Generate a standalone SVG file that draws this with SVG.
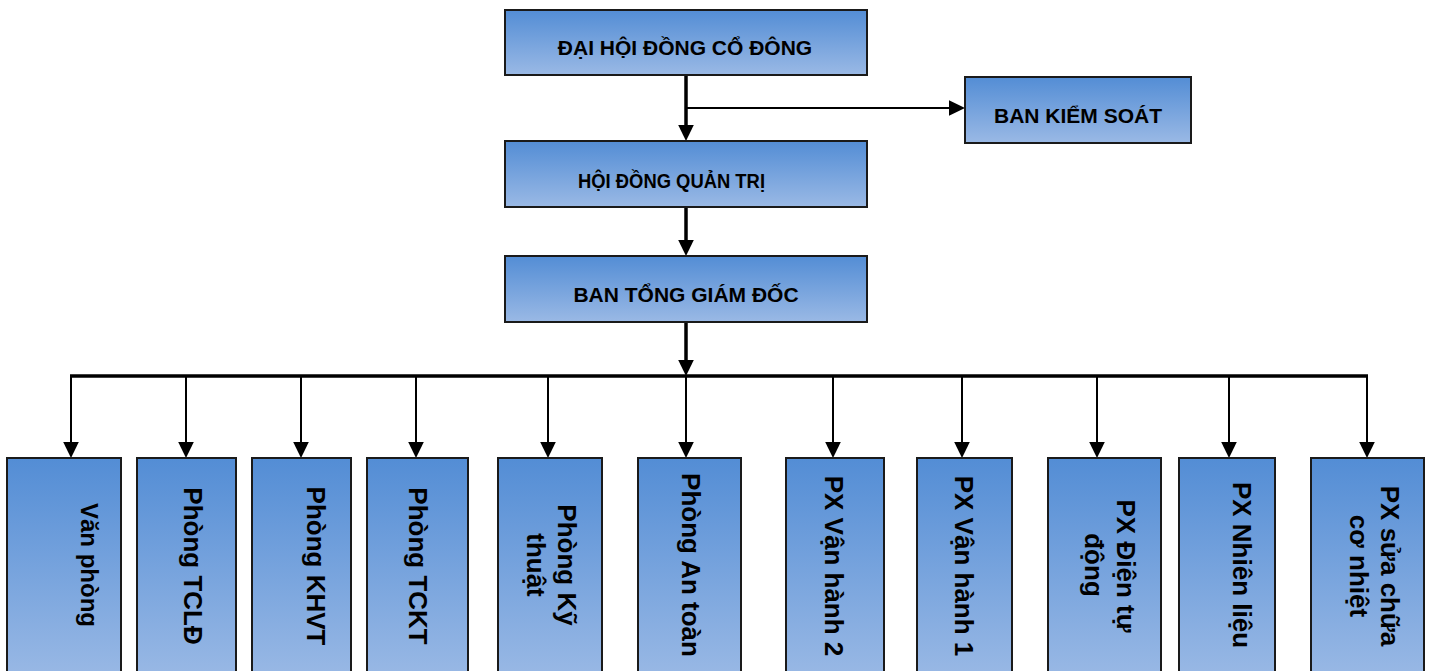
<svg xmlns="http://www.w3.org/2000/svg" width="1432" height="671" viewBox="0 0 1432 671">
<defs>
<linearGradient id="g" x1="0" y1="0" x2="0" y2="1">
<stop offset="0" stop-color="#538dd5"/>
<stop offset="1" stop-color="#9ab9e5"/>
</linearGradient>
<marker id="ah" markerUnits="userSpaceOnUse" markerWidth="16" markerHeight="16" viewBox="0 0 16 16" refX="6" refY="8" orient="auto">
<path d="M0,0.2 L16,8 L0,15.8 z" fill="#000"/>
</marker>
<style>
.box{fill:url(#g);stroke:#1a1a1a;stroke-width:2}
.ht{font-family:"Liberation Sans",Arial,sans-serif;font-weight:bold;font-size:21px;fill:#000;text-anchor:middle}
.vt{font-family:"Liberation Sans",Arial,sans-serif;font-weight:bold;font-size:26px;fill:#000;text-anchor:middle}
.thick{stroke:#000;stroke-width:3.5;fill:none}
.thin{stroke:#000;stroke-width:2;fill:none}
</style>
</defs>
<rect width="1432" height="671" fill="#fff"/>

<g id="connectors">
<line class="thick" x1="686" y1="75" x2="686" y2="131" marker-end="url(#ah)"/>
<line class="thin" x1="686" y1="108" x2="955" y2="108" marker-end="url(#ah)"/>
<line class="thick" x1="686" y1="207" x2="686" y2="246" marker-end="url(#ah)"/>
<line class="thick" x1="686" y1="322" x2="686" y2="366" marker-end="url(#ah)"/>
<line class="thick" x1="70" y1="376" x2="1368" y2="376"/>
<line class="thin" x1="71" y1="376" x2="71" y2="448" marker-end="url(#ah)"/>
<line class="thin" x1="186" y1="376" x2="186" y2="448" marker-end="url(#ah)"/>
<line class="thin" x1="301" y1="376" x2="301" y2="448" marker-end="url(#ah)"/>
<line class="thin" x1="416" y1="376" x2="416" y2="448" marker-end="url(#ah)"/>
<line class="thin" x1="548" y1="376" x2="548" y2="448" marker-end="url(#ah)"/>
<line class="thin" x1="686" y1="376" x2="686" y2="448" marker-end="url(#ah)"/>
<line class="thin" x1="833" y1="376" x2="833" y2="448" marker-end="url(#ah)"/>
<line class="thin" x1="962" y1="376" x2="962" y2="448" marker-end="url(#ah)"/>
<line class="thin" x1="1097" y1="376" x2="1097" y2="448" marker-end="url(#ah)"/>
<line class="thin" x1="1229" y1="376" x2="1229" y2="448" marker-end="url(#ah)"/>
<line class="thin" x1="1367" y1="376" x2="1367" y2="448" marker-end="url(#ah)"/>
</g>

<g id="dai-hoi-dong-co-dong">
<rect class="box" x="505" y="10" width="362" height="65"/>
<text class="ht" x="685" y="55">ĐẠI HỘI ĐỒNG CỔ ĐÔNG</text>
</g>
<g id="ban-kiem-soat">
<rect class="box" x="965" y="77" width="226" height="66"/>
<text class="ht" x="1078" y="123">BAN KIỂM SOÁT</text>
</g>
<g id="hoi-dong-quan-tri">
<rect class="box" x="505" y="141" width="362" height="66"/>
<text class="ht" x="671.5" y="188" textLength="187" lengthAdjust="spacingAndGlyphs">HỘI ĐỒNG QUẢN TRỊ</text>
</g>
<g id="ban-tong-giam-doc">
<rect class="box" x="505" y="256" width="362" height="66"/>
<text class="ht" x="686" y="302">BAN TỔNG GIÁM ĐỐC</text>
</g>

<g id="van-phong">
<rect class="box" x="7" y="458" width="114" height="222"/>
<text class="vt" style="font-size:24px" transform="translate(81,565) rotate(90)">Văn phòng</text>
</g>
<g id="phong-tcld">
<rect class="box" x="137" y="458" width="99" height="222"/>
<text class="vt" transform="translate(184,566) rotate(90)">Phòng TCLĐ</text>
</g>
<g id="phong-khvt">
<rect class="box" x="252" y="458" width="99" height="222"/>
<text class="vt" transform="translate(307,566) rotate(90)">Phòng KHVT</text>
</g>
<g id="phong-tckt">
<rect class="box" x="367" y="458" width="101" height="222"/>
<text class="vt" transform="translate(409,566) rotate(90)">Phòng TCKT</text>
</g>
<g id="phong-ky-thuat">
<rect class="box" x="498" y="458" width="104" height="222"/>
<text class="vt" transform="translate(558,565) rotate(90)">Phòng Kỹ</text>
<text class="vt" transform="translate(527,565) rotate(90)">thuật</text>
</g>
<g id="phong-an-toan">
<rect class="box" x="638" y="458" width="103" height="222"/>
<text class="vt" transform="translate(682,565) rotate(90)">Phòng An toàn</text>
</g>
<g id="px-van-hanh-2">
<rect class="box" x="786" y="458" width="98" height="222"/>
<text class="vt" transform="translate(825,566) rotate(90)">PX Vận hành 2</text>
</g>
<g id="px-van-hanh-1">
<rect class="box" x="917" y="458" width="95" height="222"/>
<text class="vt" transform="translate(955,566) rotate(90)">PX Vận hành 1</text>
</g>
<g id="px-dien-tu-dong">
<rect class="box" x="1048" y="458" width="113" height="222"/>
<text class="vt" transform="translate(1117,566) rotate(90)">PX Điện tự</text>
<text class="vt" transform="translate(1085,565) rotate(90)">động</text>
</g>
<g id="px-nhien-lieu">
<rect class="box" x="1179" y="458" width="96" height="222"/>
<text class="vt" transform="translate(1233,565) rotate(90)">PX Nhiên liệu</text>
</g>
<g id="px-sua-chua-co-nhiet">
<rect class="box" x="1311" y="458" width="113" height="222"/>
<text class="vt" transform="translate(1381,566) rotate(90)">PX sửa chữa</text>
<text class="vt" transform="translate(1350,566) rotate(90)">cơ nhiệt</text>
</g>
</svg>
